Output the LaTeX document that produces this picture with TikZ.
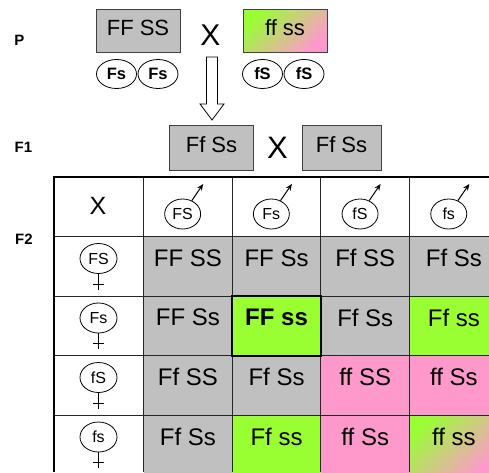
\documentclass[tikz,border=0pt]{standalone}
\usepackage{fontspec}
\setmainfont{Liberation Sans}
\usetikzlibrary{shapes.geometric,arrows.meta,calc}

\definecolor{cellgray}{HTML}{C0C0C0}
\definecolor{lime}{HTML}{99FF33}
\definecolor{rose}{HTML}{FF99CC}
\definecolor{edge}{HTML}{404040}

\tikzset{
  stage/.style={inner sep=0pt, font=\bfseries\fontsize{15}{15}\selectfont},
  box/.style={draw=edge, line width=0.9pt, inner sep=0pt,
    text height=16pt, text depth=6pt, font=\fontsize{22}{24}\selectfont},
  crosssign/.style={inner sep=0pt},
  pgam/.style={ellipse, draw, line width=0.8pt, inner sep=0pt,
    minimum width=40pt, minimum height=29pt, font=\bfseries\fontsize{16.5}{16.5}\selectfont},
  male/.style={ellipse, draw, line width=0.8pt, inner sep=0pt,
    minimum width=36pt, minimum height=30pt, font=\fontsize{16}{16}\selectfont},
  female/.style={ellipse, draw, line width=0.8pt, inner sep=0pt,
    minimum width=37pt, minimum height=30pt, font=\fontsize{16}{16}\selectfont},
  cellbg/.style={inner sep=0pt, anchor=north west,
    minimum width=88.7pt, minimum height=59.5pt},
  celltext/.style={inner sep=0pt, font=\fontsize{24}{24}\selectfont},
  gridline/.style={draw=black!85, line width=1pt},
  frame/.style={draw=black, line width=2pt},
  spear/.style={line width=1pt, -{Stealth[length=6.5pt,width=5.5pt]}},
  blend/.style={top color=lime, bottom color=rose, shading angle=45},
}

\begin{document}
\begin{tikzpicture}[x=1pt, y=-1pt]
\useasboundingbox (0,0) rectangle (489,472);

% generation labels
\node[stage] (lp) at (19.5,40.5) {P};
\node[stage] (lf1) at (23.5,147.5) {F1};
\node[stage] (lf2) at (24,239) {F2};

% parents
\node[box, fill=cellgray, minimum width=84pt, minimum height=43pt] (pa) at (138,30.5) {FF SS};
\node[crosssign, font=\fontsize{30}{30}\selectfont] (px) at (210.5,35) {X};
\node[box, blend, minimum width=84pt, minimum height=43pt] (pb) at (285,30.5) {ff ss};

% parental gametes
\node[pgam] (g1) at (116.5,74) {Fs};
\node[pgam] (g2) at (158,74) {Fs};
\node[pgam] (g3) at (262.5,74) {fS};
\node[pgam] (g4) at (304,74) {fS};

% hollow arrow down to F1
\draw[line width=0.8pt, fill=white]
  (206.5,57) -- (217.5,57) -- (217.5,104) -- (224,104) -- (212,120)
  -- (200,104) -- (206.5,104) -- cycle;

% F1
\node[box, fill=cellgray, minimum width=84pt, minimum height=45pt] (fa) at (211.5,147.5) {Ff Ss};
\node[crosssign, font=\fontsize{31}{31}\selectfont] (fx) at (277.5,147.5) {X};
\node[box, fill=cellgray, minimum width=79pt, minimum height=45pt] (fb) at (341.5,147.5) {Ff Ss};

% Punnett square cell fills
\node[cellbg, fill=cellgray] (c11) at (143.3,236.5) {};
\node[cellbg, fill=cellgray] (c12) at (232.0,236.5) {};
\node[cellbg, fill=cellgray] (c13) at (320.7,236.5) {};
\node[cellbg, fill=cellgray] (c14) at (409.4,236.5) {};
\node[cellbg, fill=cellgray] (c21) at (143.3,296) {};
\node[cellbg, fill=lime]     (c22) at (232.0,296) {};
\node[cellbg, fill=cellgray] (c23) at (320.7,296) {};
\node[cellbg, fill=lime]     (c24) at (409.4,296) {};
\node[cellbg, fill=cellgray] (c31) at (143.3,355.5) {};
\node[cellbg, fill=cellgray] (c32) at (232.0,355.5) {};
\node[cellbg, fill=rose]     (c33) at (320.7,355.5) {};
\node[cellbg, fill=rose]     (c34) at (409.4,355.5) {};
\node[cellbg, fill=cellgray] (c41) at (143.3,415) {};
\node[cellbg, fill=lime]     (c42) at (232.0,415) {};
\node[cellbg, fill=rose]     (c43) at (320.7,415) {};
\node[cellbg, blend]         (c44) at (409.4,415) {};

% grid
\foreach \yy in {236.5,296,355.5,415}
  \draw[gridline] (53,\yy) -- (489,\yy);
\foreach \xx in {143.3,232,320.7,409.4}
  \draw[gridline] (\xx,177) -- (\xx,472);
\draw[frame] (53.5,472) -- (53.5,177) -- (489,177);
\draw[frame] (c22.north west) rectangle (c22.south east);

% genotypes
\node[celltext] (t11) at ($(c11.north)+(0,21.5)$) {FF SS};
\node[celltext] (t12) at ($(c12.north)+(0,21.5)$) {FF Ss};
\node[celltext] (t13) at ($(c13.north)+(0,21.5)$) {Ff SS};
\node[celltext] (t14) at ($(c14.north)+(0,21.5)$) {Ff Ss};
\node[celltext] (t21) at ($(c21.north)+(0,21.5)$) {FF Ss};
\node[celltext, font=\bfseries\fontsize{24}{24}\selectfont] (t22) at ($(c22.north)+(0,21.5)$) {FF ss};
\node[celltext] (t23) at ($(c23.north)+(0,21.5)$) {Ff Ss};
\node[celltext] (t24) at ($(c24.north)+(0,21.5)$) {Ff ss};
\node[celltext] (t31) at ($(c31.north)+(0,21.5)$) {Ff SS};
\node[celltext] (t32) at ($(c32.north)+(0,21.5)$) {Ff Ss};
\node[celltext] (t33) at ($(c33.north)+(0,21.5)$) {ff SS};
\node[celltext] (t34) at ($(c34.north)+(0,21.5)$) {ff Ss};
\node[celltext] (t41) at ($(c41.north)+(0,21.5)$) {Ff Ss};
\node[celltext] (t42) at ($(c42.north)+(0,21.5)$) {Ff ss};
\node[celltext] (t43) at ($(c43.north)+(0,21.5)$) {ff Ss};
\node[celltext] (t44) at ($(c44.north)+(0,21.5)$) {ff ss};

% header corner
\node[crosssign, font=\fontsize{25}{25}\selectfont] (hx) at (98,206) {X};

% male gametes (columns)
\foreach \n/\cx/\g in {1/187.65/FS, 2/276.35/Fs, 3/365.05/fS, 4/453.75/fs} {
  \node[male] (m\n) at (\cx-5,214) {\g};
  \coordinate (mt\n) at (\cx+15.5,184);
  \draw[spear] (m\n) -- (mt\n);
}

% female gametes (rows)
\foreach \n/\ry/\g in {1/236.5/FS, 2/296/Fs, 3/355.5/fS, 4/415/fs} {
  \node[female] (f\n) at (98.5,\ry+22) {\g};
  \draw[line width=0.8pt] (f\n.south) -- ++(0,16);
  \draw[line width=0.8pt] ($(f\n.south)+(-5.5,10)$) -- ++(11,0);
}
\end{tikzpicture}
\end{document}
